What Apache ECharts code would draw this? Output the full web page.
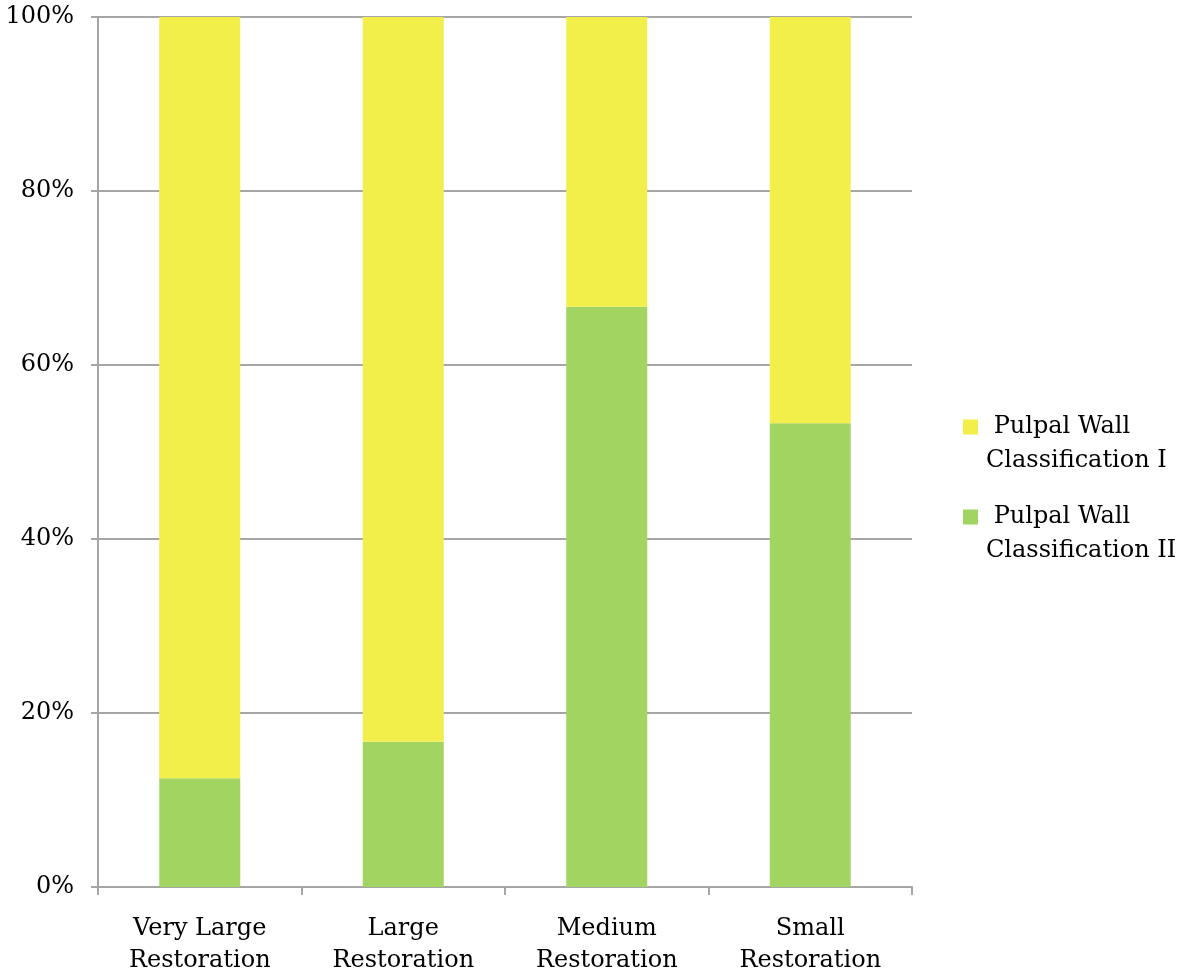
<!DOCTYPE html>
<html><head><meta charset="utf-8">
<script src="https://cdn.jsdelivr.net/npm/echarts@6/dist/echarts.min.js"></script>
<style>html,body{margin:0;padding:0;background:#fff}#c{width:1185px;height:978px}</style>
</head><body><div id="c"></div>
<script>
const categories = ['Very Large\nRestoration', 'Large\nRestoration', 'Medium\nRestoration', 'Small\nRestoration'];
const classII = [12.5, 16.7, 66.7, 53.3];
const classI = [87.5, 83.3, 33.3, 46.7];
const seriesNames = [' Pulpal Wall\nClassification I', ' Pulpal Wall\nClassification II'];
const FONT = 'DejaVu Serif';
const chart = echarts.init(document.getElementById('c'));
chart.setOption({
  animation: false,
  textStyle: {fontFamily: FONT},
  grid: {left: 98, right: 273, top: 17, bottom: 91, containLabel: false},
  legend: {
    orient: 'vertical', left: 963, top: 376, padding: 0,
    itemWidth: 15, itemHeight: 15, itemGap: -12, icon: 'rect',
    data: [seriesNames[0], seriesNames[1]],
    formatter: function (n) { return '\n' + n; },
    textStyle: {fontFamily: FONT, fontSize: 24, color: '#000', lineHeight: 34, padding: [0,0,0,3]}
  },
  xAxis: {
    type: 'category', data: categories,
    axisLine: {lineStyle: {color: '#a6a6a6', width: 2}},
    axisTick: {show: true, length: 8, lineStyle: {color: '#a6a6a6', width: 2}},
    axisLabel: {fontFamily: FONT, fontSize: 24, color: '#000', lineHeight: 32, margin: 26}
  },
  yAxis: {
    type: 'value', min: 0, max: 100, interval: 20,
    axisLine: {show: true, lineStyle: {color: '#a6a6a6', width: 2}},
    axisTick: {show: true, length: 7, lineStyle: {color: '#a6a6a6', width: 2}},
    splitLine: {lineStyle: {color: '#a6a6a6', width: 2}},
    axisLabel: {fontFamily: FONT, fontSize: 24, color: '#000', margin: 24, padding: [6,0,0,0], formatter: '{value}%'}
  },
  series: [
    {name: seriesNames[1], type: 'bar', stack: 's', data: classII, barWidth: 81, itemStyle: {color: '#a2d462'}},
    {name: seriesNames[0], type: 'bar', stack: 's', data: classI, barWidth: 81, itemStyle: {color: '#f2ef4a'}}
  ]
});
</script></body></html>
